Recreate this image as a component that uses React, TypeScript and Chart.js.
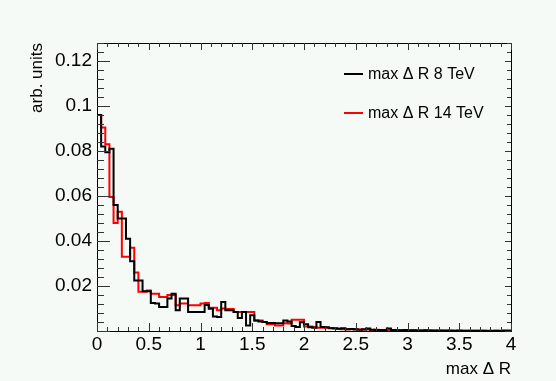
import React, { useEffect, useRef } from "react";
import { Chart, registerables } from "chart.js";

Chart.register(...registerables);

// ---- data -----------------------------------------------------------------
const BIN_WIDTH = 0.04; // 100 bins over [0, 4]

const maxDR8TeV = [
  0.032, 0.096, 0.082, 0.0795, 0.081, 0.056, 0.05, 0.05, 0.041, 0.031,
  0.0225, 0.0225, 0.0177, 0.0177, 0.0125, 0.0122, 0.0107, 0.0107, 0.0145, 0.0166,
  0.0092, 0.0144, 0.0144, 0.0085, 0.0085, 0.0085, 0.0085, 0.0116, 0.0099, 0.0065,
  0.0062, 0.0129, 0.0092, 0.0092, 0.0085, 0.0058, 0.0085, 0.0025, 0.007, 0.0047,
  0.0042, 0.004, 0.0036, 0.0036, 0.0034, 0.0035, 0.0047, 0.0042, 0.0022, 0.0018,
  0.0039, 0.003, 0.0017, 0.0015, 0.004, 0.0018, 0.0017, 0.0012, 0.0012, 0.001,
  0.0012, 0.0008, 0.0009, 0.0007, 0.0006, 0.0008, 0.0011, 0.0006, 0.0005, 0.0004,
  0.0005, 0.0011, 0.0004, 0.0003, 0.0003, 0.0004, 0.0002, 0.0003, 0.0002, 0.0002,
  0.0003, 0.0002, 0.0002, 0.0001, 0.0002, 0.0002, 0.0001, 0.0001, 0.0002, 0.0001,
  0.0001, 0.0001, 0.0001, 0.0001, 0.0001, 0.0, 0.0001, 0.0001, 0.0, 0.0001,
];

const maxDR14TeV = [
  0.026, 0.096, 0.0905, 0.083, 0.0596, 0.048, 0.053, 0.033, 0.033, 0.037,
  0.026, 0.0175, 0.0175, 0.018, 0.0166, 0.0166, 0.0151, 0.0151, 0.016, 0.016,
  0.0114, 0.0122, 0.0122, 0.0114, 0.0114, 0.0114, 0.0122, 0.0124, 0.0103, 0.0103,
  0.0092, 0.01, 0.0098, 0.0098, 0.0085, 0.0085, 0.0085, 0.0085, 0.0085, 0.0047,
  0.0047, 0.004, 0.003, 0.003, 0.0025, 0.0025, 0.0035, 0.0033, 0.005, 0.005,
  0.005, 0.002, 0.002, 0.0018, 0.0015, 0.0014, 0.0015, 0.0013, 0.0011, 0.001,
  0.0008, 0.0008, 0.0008, 0.0009, 0.0007, 0.0006, 0.0007, 0.0005, 0.0006, 0.0004,
  0.0004, 0.0003, 0.0004, 0.0003, 0.0003, 0.0002, 0.0003, 0.0002, 0.0002, 0.0002,
  0.0002, 0.0002, 0.0001, 0.0002, 0.0001, 0.0001, 0.0002, 0.0001, 0.0001, 0.0001,
  0.0001, 0.0001, 0.0001, 0.0001, 0.0001, 0.0001, 0.0, 0.0001, 0.0001, 0.0002,
];

const seriesLabels = ["max \u0394 R 8 TeV", "max \u0394 R 14 TeV"];
const seriesColors = ["#000000", "#ff0000"];
const xTickValues = [0, 0.5, 1, 1.5, 2, 2.5, 3, 3.5, 4];
const yTickValues = [0.02, 0.04, 0.06, 0.08, 0.1, 0.12];
const xTitle = "max \u0394 R";
const yTitle = "arb. units";
const X_MIN = 0;
const X_MAX = 4;
const Y_MIN = 0;
const Y_MAX = 0.128;

// ---- helpers ---------------------------------------------------------------
function histPoints(values: number[]) {
  const pts: { x: number; y: number }[] = [{ x: X_MIN, y: 0 }];
  values.forEach((v, i) => pts.push({ x: X_MIN + i * BIN_WIDTH, y: v }));
  pts.push({ x: X_MIN + values.length * BIN_WIDTH, y: values[values.length - 1] });
  return pts;
}

const FONT = "'Liberation Sans', Arial, Helvetica, sans-serif";
const BG = "#f5faf7";

const rootStyle = {
  id: "rootStyle",
  beforeDraw(chart: any) {
    const { ctx, width, height } = chart;
    ctx.save();
    ctx.fillStyle = BG;
    ctx.fillRect(0, 0, width, height);
    ctx.restore();
  },
  afterDatasetsDraw(chart: any) {
    const { ctx, chartArea } = chart;
    const xs = chart.scales.x;
    const ys = chart.scales.y;
    const { left, right, top, bottom } = chartArea;
    ctx.save();
    // frame
    ctx.strokeStyle = "#000";
    ctx.lineWidth = 1;
    ctx.strokeRect(Math.round(left) + 0.5, Math.round(top) + 0.5, Math.round(right - left), Math.round(bottom - top));
    // x ticks
    ctx.strokeStyle = "#333";
    ctx.beginPath();
    for (let k = 0; k <= 40; k++) {
      const v = k * 0.1;
      const px = Math.round(xs.getPixelForValue(v)) + 0.5;
      const major = k % 5 === 0;
      const lb = major ? 8 : 4;
      const lt = major ? 7 : 4;
      ctx.moveTo(px, bottom);
      ctx.lineTo(px, bottom - lb);
      ctx.moveTo(px, top);
      ctx.lineTo(px, top + lt);
    }
    // y ticks
    for (let k = 0; k <= 32; k++) {
      const v = k * 0.004;
      const py = Math.round(ys.getPixelForValue(v)) + 0.5;
      const major = k % 5 === 0;
      const ll = major ? 13 : 7;
      const lr = major ? 6 : 4;
      ctx.moveTo(left, py);
      ctx.lineTo(left + ll, py);
      ctx.moveTo(right, py);
      ctx.lineTo(right - lr, py);
    }
    ctx.stroke();

    // axis titles
    ctx.fillStyle = "#000";
    ctx.font = `17px ${FONT}`;
    ctx.textAlign = "right";
    ctx.textBaseline = "alphabetic";
    ctx.fillText(xTitle, right, 374);
    ctx.save();
    ctx.translate(42, top);
    ctx.rotate(-Math.PI / 2);
    ctx.textAlign = "right";
    ctx.fillText(yTitle, 0, 0);
    ctx.restore();

    // legend
    ctx.font = `16px ${FONT}`;
    ctx.textAlign = "left";
    ctx.textBaseline = "middle";
    const legendY = [74, 113];
    seriesLabels.forEach((lab, i) => {
      ctx.strokeStyle = seriesColors[i];
      ctx.lineWidth = 2;
      ctx.beginPath();
      ctx.moveTo(344, legendY[i]);
      ctx.lineTo(363, legendY[i]);
      ctx.stroke();
      ctx.fillStyle = "#000";
      ctx.fillText(lab, 368, legendY[i] + 1);
    });
    ctx.restore();
  },
};

export default function App() {
  const canvasRef = useRef<HTMLCanvasElement | null>(null);

  useEffect(() => {
    document.body.style.margin = "0";
    document.body.style.background = BG;
    const canvas = canvasRef.current;
    if (!canvas) return;
    const chart = new Chart(canvas, {
      type: "line",
      data: {
        datasets: [
          {
            label: seriesLabels[0],
            data: histPoints(maxDR8TeV),
            borderColor: seriesColors[0],
            borderWidth: 2,
            stepped: "after",
            pointRadius: 0,
            fill: false,
          },
          {
            label: seriesLabels[1],
            data: histPoints(maxDR14TeV),
            borderColor: seriesColors[1],
            borderWidth: 2,
            stepped: "after",
            pointRadius: 0,
            fill: false,
          },
        ],
      },
      options: {
        animation: false,
        responsive: false,
        devicePixelRatio: 1,
        parsing: false,
        layout: { padding: { top: 43, right: 45, left: 0, bottom: 0 } },
        plugins: { legend: { display: false }, tooltip: { enabled: false } },
        scales: {
          x: {
            type: "linear",
            min: X_MIN,
            max: X_MAX,
            afterFit: (s: any) => {
              s.height = 50;
            },
            afterBuildTicks: (s: any) => {
              s.ticks = xTickValues.map((v) => ({ value: v }));
            },
            grid: { display: false, drawTicks: false },
            border: { display: false },
            ticks: {
              color: "#000",
              font: { family: FONT, size: 19 },
              padding: 2,
              maxRotation: 0,
              autoSkip: false,
              callback: (v: any) => String(+Number(v).toFixed(3)),
            },
          },
          y: {
            type: "linear",
            min: Y_MIN,
            max: Y_MAX,
            afterFit: (s: any) => {
              s.width = 97;
            },
            afterBuildTicks: (s: any) => {
              s.ticks = yTickValues.map((v) => ({ value: v }));
            },
            grid: { display: false, drawTicks: false },
            border: { display: false },
            ticks: {
              color: "#000",
              font: { family: FONT, size: 19 },
              padding: 5,
              autoSkip: false,
              callback: (v: any) => String(+Number(v).toFixed(3)),
            },
          },
        },
      },
      plugins: [rootStyle],
    });
    return () => chart.destroy();
  }, []);

  return (
    <div style={{ width: 556, height: 381, background: BG }}>
      <canvas ref={canvasRef} width={556} height={381} style={{ display: "block" }} />
    </div>
  );
}
